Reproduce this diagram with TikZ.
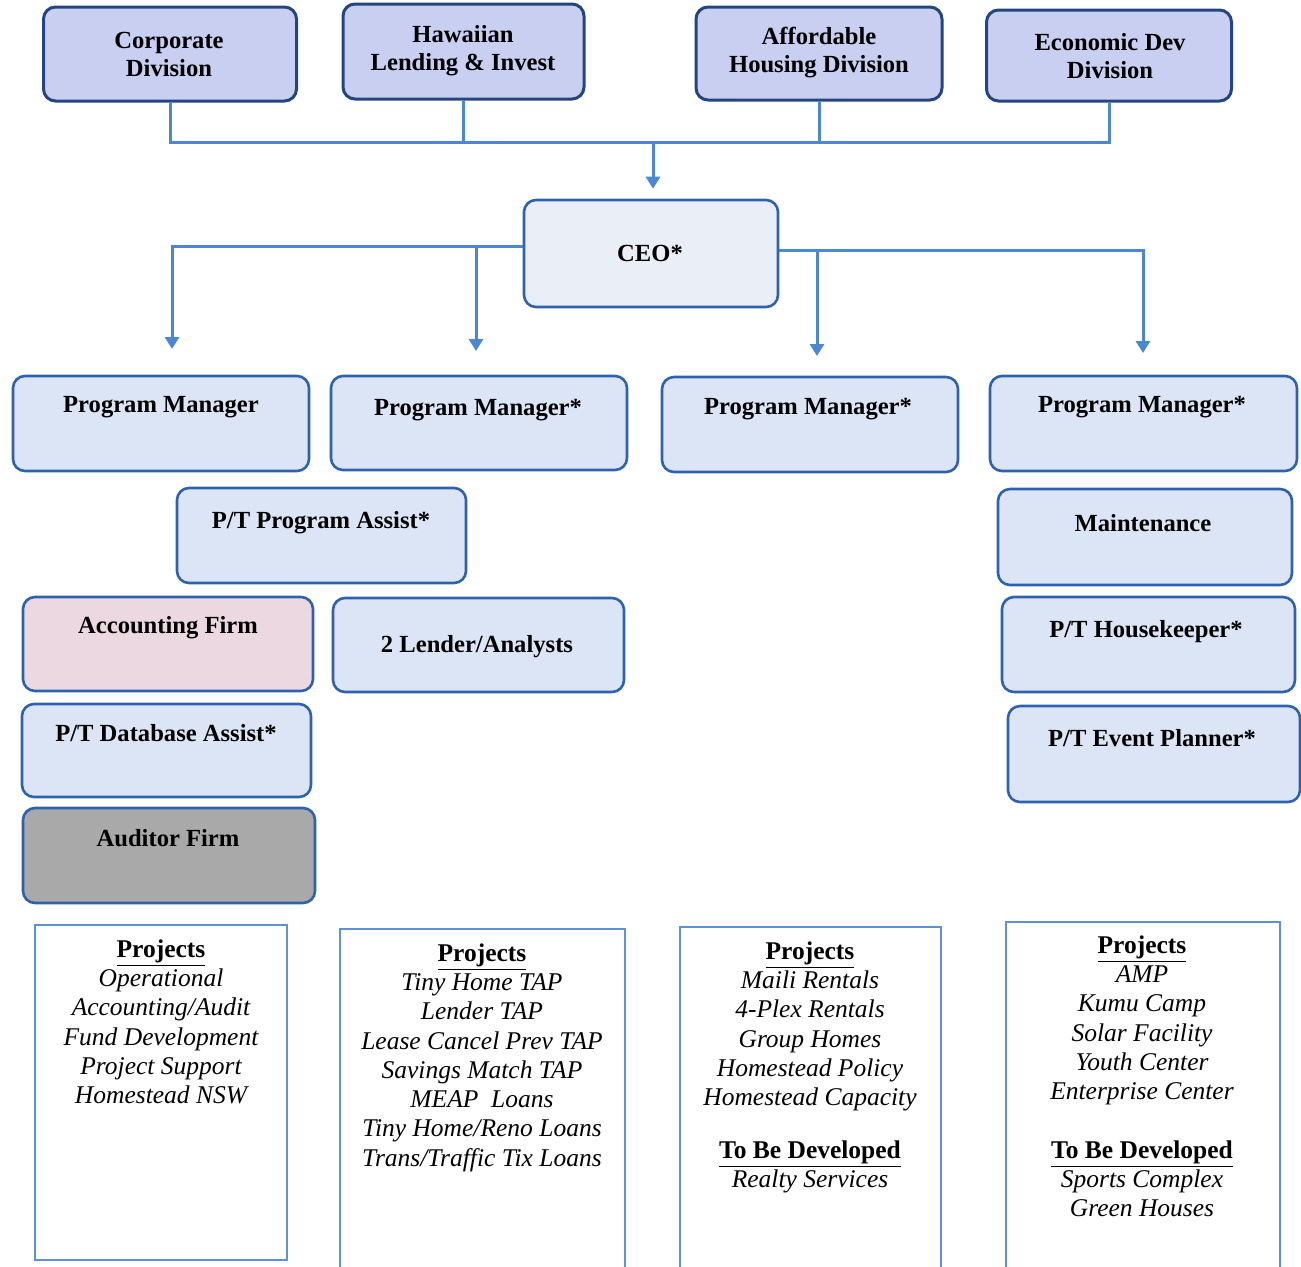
\documentclass[tikz,border=0pt]{standalone}
\usepackage{fontspec}
\setmainfont{Liberation Serif}
\usetikzlibrary{arrows.meta,calc}
\definecolor{topfill}{HTML}{C9CFF1}
\definecolor{topline}{HTML}{24457F}
\definecolor{midfill}{HTML}{DCE5F6}
\definecolor{midline}{HTML}{2F62AE}
\definecolor{ceofill}{HTML}{E9EEF7}
\definecolor{accfill}{HTML}{EBD8E0}
\definecolor{audfill}{HTML}{A9A9A9}
\definecolor{connc}{HTML}{4A88D4}
\definecolor{projline}{HTML}{5E92D2}
\newcommand\ptitlefont{\bfseries\upshape}
\begin{document}
\begin{tikzpicture}[x=0.5pt,y=-0.5pt,
 topbox/.style={draw=topline, line width=1.5pt, fill=topfill, rounded corners=6pt, inner sep=0pt},
 midbox/.style={draw=midline, line width=1.3pt, fill=midfill, rounded corners=6pt, inner sep=0pt},
 lbl/.style={font=\fontsize{12.3}{14}\selectfont\bfseries, align=center, inner sep=0pt},
 conn/.style={draw=connc, line width=1.5pt},
 arr/.style={-{Triangle[length=6pt,width=7pt]}},
 projbox/.style={draw=projline, line width=0.7pt, fill=white, inner sep=0pt},
 plist/.style={font=\fontsize{12.75}{14.65}\selectfont\itshape, align=center, inner sep=0pt, anchor=north},
]
\fill[white] (0,0) rectangle (1301,1266);
\useasboundingbox (0,0) rectangle (1301,1266);

% top divisions
\node[topbox, minimum width=126.5pt, minimum height=47pt] (corp) at (170,54) {};
\node[topbox, minimum width=120.5pt, minimum height=47.5pt] (haw) at (463.5,51.5) {};
\node[topbox, minimum width=123pt, minimum height=46.5pt] (aff) at (819,53.5) {};
\node[topbox, minimum width=122.5pt, minimum height=45.5pt] (eco) at (1109,55.5) {};
\node[lbl] (corpt) at (169,54) {Corporate\\Division};
\node[lbl] (hawt) at (463,51) {Hawaiian\\Lending \& Invest};
\node[lbl] (afft) at (819,53) {Affordable\\Housing Division};
\node[lbl] (ecot) at (1110,56) {Economic Dev\\Division};

% CEO
\node[midbox, fill=ceofill, minimum width=127pt, minimum height=53.5pt] (ceo) at (651,253.5) {};
\node[lbl] (ceot) at (650,253) {CEO*};

% connectors top
\coordinate (bus) at (653,142);
\draw[conn] (corp.south) -- (corp.south |- bus) -- (eco.south |- bus) -- (eco.south);
\draw[conn] (haw.south) -- (haw.south |- bus);
\draw[conn] (aff.south) -- (aff.south |- bus);
\draw[conn,arr] (bus) -- ($(bus |- ceo.north)+(0,-10)$);

% connectors from CEO
\coordinate (la) at (172,349);
\coordinate (lj) at (476,246);
\coordinate (lb) at (476,351);
\coordinate (ra) at (1143,353);
\coordinate (rj) at (817,250);
\coordinate (rb) at (817,356);
\draw[conn,arr] ($(ceo.west)+(0,-7.5)$) -| (la);
\draw[conn,arr] (lj) -- (lb);
\draw[conn,arr] ($(ceo.east)+(0,-3.5)$) -| (ra);
\draw[conn,arr] (rj) -- (rb);

% program managers
\node[midbox, minimum width=148pt, minimum height=47.5pt] (pm1) at (161,423.5) {};
\node[midbox, minimum width=148pt, minimum height=47pt] (pm2) at (479,423) {};
\node[midbox, minimum width=148pt, minimum height=47.5pt] (pm3) at (810,424.5) {};
\node[midbox, minimum width=153.5pt, minimum height=47.5pt] (pm4) at (1143.5,423.5) {};
\node[lbl] (pm1t) at (161,407) {Program Manager};
\node[lbl] (pm2t) at (478,410) {Program Manager*};
\node[lbl] (pm3t) at (808,409) {Program Manager*};
\node[lbl] (pm4t) at (1142,407) {Program Manager*};

% left / middle staff
\node[midbox, minimum width=144.5pt, minimum height=47.5pt] (pta) at (321.5,535.5) {};
\node[lbl] (ptat) at (321,523) {P/T Program Assist*};
\node[midbox, fill=accfill, minimum width=145pt, minimum height=47pt] (acc) at (168,644) {};
\node[lbl] (acct) at (168,628) {Accounting Firm};
\node[midbox, minimum width=145.5pt, minimum height=47pt] (lend) at (478.5,645) {};
\node[lbl] (lendt) at (477,647) {2 Lender/Analysts};
\node[midbox, minimum width=144.5pt, minimum height=46.5pt] (pdb) at (166.5,750.5) {};
\node[lbl] (pdbt) at (166,733) {P/T Database Assist*};
\node[midbox, fill=audfill, minimum width=146pt, minimum height=47.5pt] (aud) at (169,855.5) {};
\node[lbl] (audt) at (168,838) {Auditor Firm};

% right staff
\node[midbox, minimum width=147pt, minimum height=48pt] (mnt) at (1145,537) {};
\node[lbl] (mntt) at (1143,523) {Maintenance};
\node[midbox, minimum width=146.5pt, minimum height=47.5pt] (hk) at (1148.5,644.5) {};
\node[lbl] (hkt) at (1146,632) {P/T Housekeeper*};
\node[midbox, minimum width=146pt, minimum height=48pt] (ev) at (1154,754) {};
\node[lbl] (evt) at (1152,738) {P/T Event Planner*};

% project boxes
\node[projbox, minimum width=126pt, minimum height=167.5pt] (b1) at (161,1092.5) {};
\node[projbox, minimum width=142.5pt, minimum height=170.5pt] (b2) at (482.5,1099.5) {};
\node[projbox, minimum width=130.5pt, minimum height=171.5pt] (b3) at (810.5,1098.5) {};
\node[projbox, minimum width=137pt, minimum height=174pt] (b4) at (1143,1096) {};

\node[plist] (b1t) at (161,939) {{\ptitlefont\underline{Projects}}\\Operational\\Accounting/Audit\\Fund Development\\Project Support\\Homestead NSW};
\node[plist] (b2t) at (482,943) {{\ptitlefont\underline{Projects}}\\Tiny Home TAP\\Lender TAP\\Lease Cancel Prev TAP\\Savings Match TAP\\MEAP\ \ Loans\\Tiny Home/Reno Loans\\Trans/Traffic Tix Loans};
\node[plist] (b3t) at (810,941) {{\ptitlefont\underline{Projects}}\\Maili Rentals\\4-Plex Rentals\\Group Homes\\Homestead Policy\\Homestead Capacity};
\node[plist] (b3d) at (810,1140) {{\ptitlefont\underline{To Be Developed}}\\Realty Services};
\node[plist] (b4t) at (1142,935) {{\ptitlefont\underline{Projects}}\\AMP\\Kumu Camp\\Solar Facility\\Youth Center\\Enterprise Center};
\node[plist] (b4d) at (1142,1140) {{\ptitlefont\underline{To Be Developed}}\\Sports Complex\\Green Houses};
\end{tikzpicture}
\end{document}
